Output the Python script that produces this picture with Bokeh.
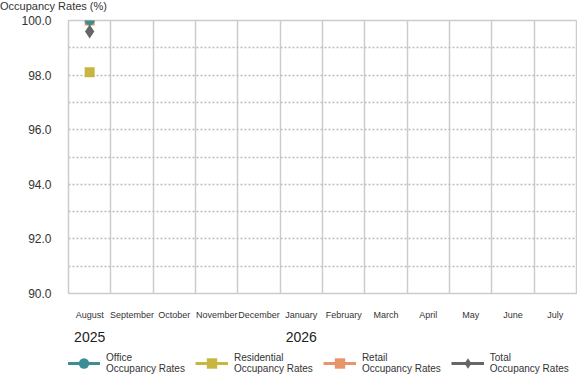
from bokeh.plotting import figure
from bokeh.layouts import column
from bokeh.models import Range1d, FixedTicker, LinearAxis, Legend, LegendItem, NumeralTickFormatter, Div
from bokeh.embed import file_html
from bokeh.resources import INLINE

title_text = "Occupancy Rates (%)"
months = ["August", "September", "October", "November", "December", "January",
          "February", "March", "April", "May", "June", "July"]
year_labels = {"August": "2025", "January": "2026"}
y_ticks = [90, 92, 94, 96, 98, 100]
y_grid = [90, 91, 92, 93, 94, 95, 96, 97, 98, 99, 100]

data_months = ["August"]
office = [100.0]
residential = [98.1]
retail = [100.0]
total = [99.6]

series_names = ["Office\nOccupancy Rates", "Residential\nOccupancy Rates",
                "Retail\nOccupancy Rates", "Total\nOccupancy Rates"]

xs = [months.index(m) + 0.5 for m in data_months]

c_office, c_res, c_ret, c_tot = "#3a8f94", "#c8b641", "#e8956a", "#666666"

head = Div(text=title_text, width=200, height=12,
           styles={"font-family": "Liberation Sans", "font-size": "11px",
                   "color": "#333333", "line-height": "12px", "margin": "0",
                   "padding": "0", "white-space": "nowrap"})

p = figure(width=577, height=332, output_backend="svg", toolbar_location=None,
           x_range=Range1d(0, len(months)), y_range=Range1d(90, 100),
           min_border_left=68, min_border_right=1, min_border_top=8, min_border_bottom=44)
p.outline_line_color = "#cccccc"
p.outline_line_width = 1.5
p.background_fill_color = "white"

# x axis (months)
xa = p.xaxis[0]
xa.ticker = FixedTicker(ticks=[i + 0.5 for i in range(len(months))])
xa.major_label_overrides = {i + 0.5: m for i, m in enumerate(months)}
xa.axis_line_color = None
xa.major_tick_line_color = None
xa.minor_tick_line_color = None
xa.major_label_standoff = 10
xa.major_label_text_font = "Liberation Sans"
xa.major_label_text_font_size = "9px"
xa.major_label_text_color = "#333333"

# year axis
ya2 = LinearAxis(ticker=FixedTicker(ticks=[months.index(m) + 0.5 for m in year_labels]))
ya2.major_label_overrides = {months.index(m) + 0.5: y for m, y in year_labels.items()}
ya2.axis_line_color = None
ya2.major_tick_line_color = None
ya2.minor_tick_line_color = None
ya2.major_label_standoff = 3
ya2.major_label_text_font = "Liberation Sans"
ya2.major_label_text_font_size = "14px"
ya2.major_label_text_color = "#222222"
p.add_layout(ya2, "below")

# y axis
ya = p.yaxis[0]
ya.ticker = FixedTicker(ticks=y_ticks)
ya.formatter = NumeralTickFormatter(format="0.0")
ya.axis_line_color = None
ya.major_tick_line_color = None
ya.minor_tick_line_color = None
ya.major_label_standoff = 11
ya.major_label_text_font = "Liberation Sans"
ya.major_label_text_font_size = "12px"
ya.major_label_text_color = "#333333"

p.xgrid.ticker = FixedTicker(ticks=list(range(len(months) + 1)))
p.xgrid.grid_line_color = "#cccccc"
p.xgrid.grid_line_width = 1.5
p.ygrid.ticker = FixedTicker(ticks=y_grid)
p.ygrid.grid_line_color = "#bbbbbb"
p.ygrid.grid_line_width = 1.5
p.ygrid.grid_line_dash = "2 2"

p.scatter(xs, retail, marker="square", size=10, fill_color=c_ret, line_color=None)
p.scatter(xs, office, marker="circle", size=10, fill_color=c_office, line_color=None)
p.scatter(xs, residential, marker="square", size=10, fill_color=c_res, line_color=None)
p.scatter(xs, total, marker="diamond", size=14, fill_color=c_tot, line_color=None)

# legend strip (series drawn outside its visible range, only their legend glyphs show)
lg = figure(width=577, height=32, output_backend="svg", toolbar_location=None,
            x_range=Range1d(0, len(months)), y_range=Range1d(0, 1),
            x_axis_type=None, y_axis_type=None,
            min_border_left=0, min_border_right=0, min_border_top=0, min_border_bottom=0)
lg.outline_line_color = None
lg.xgrid.visible = False
lg.ygrid.visible = False

styles = [(office, c_office, "circle", 11), (residential, c_res, "square", 11),
          (retail, c_ret, "square", 11), (total, c_tot, "diamond", 15)]
items = []
for name, (vals, col, mk, sz) in zip(series_names, styles):
    l = lg.line(xs, vals, line_color=col, line_width=3)
    s = lg.scatter(xs, vals, marker=mk, size=sz, fill_color=col, line_color=None)
    items.append(LegendItem(label=name, renderers=[l, s]))

legend = Legend(items=items, orientation="horizontal", location=(-1, 0))
legend.border_line_color = None
legend.background_fill_alpha = 0
legend.padding = 0
legend.margin = 0
legend.glyph_width = 33
legend.glyph_height = 26
legend.label_standoff = 6
legend.spacing = 10
legend.label_text_font = "Liberation Sans"
legend.label_text_font_size = "10px"
legend.label_text_color = "#333333"
legend.label_text_line_height = 1.1
lg.add_layout(legend)

layout = column(head, p, lg, spacing=0)

open("out.html", "w").write(file_html(layout, INLINE))
